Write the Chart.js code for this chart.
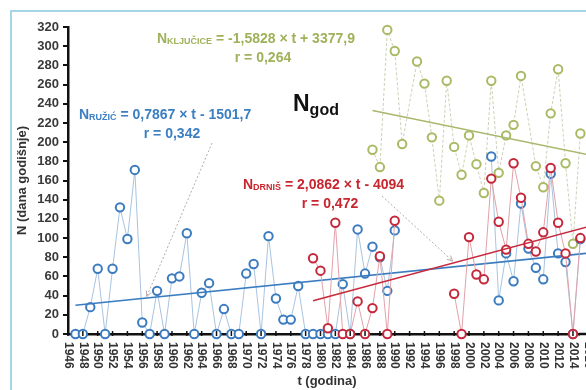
<!DOCTYPE html>
<html>
<head>
<meta charset="utf-8">
<script src="https://cdn.jsdelivr.net/npm/chart.js@4.4.0/dist/chart.umd.min.js"></script>
<style>
html, body { margin: 0; padding: 0; background: #fff; overflow: hidden; }
#wrap { width: 586px; height: 390px; position: relative; }
</style>
</head>
<body>
<div id="wrap"><canvas id="grafica"></canvas></div>
<script>
// godine (x) i broj dana po stanici, null = nema podatka
const years = [1947, 1948, 1949, 1950, 1951, 1952, 1953, 1954, 1955, 1956,
  1957, 1958, 1959, 1960, 1961, 1962, 1963, 1964, 1965, 1966,
  1967, 1968, 1969, 1970, 1971, 1972, 1973, 1974, 1975, 1976,
  1977, 1978, 1979, 1980, 1981, 1982, 1983, 1984, 1985, 1986,
  1987, 1988, 1989, 1990, 1991, 1992, 1993, 1994, 1995, 1996,
  1997, 1998, 1999, 2000, 2001, 2002, 2003, 2004, 2005, 2006,
  2007, 2008, 2009, 2010, 2011, 2012, 2013, 2014, 2015, 2016];

const ruzic = [0, 0, 28, 68, 0, 68, 132, 99, 171, 12,
  0, 45, 0, 58, 60, 105, 0, 43, 53, 0,
  26, 0, 0, 63, 73, 0, 102, 37, 15, 15,
  50, 0, 0, 0, 0, 0, 52, 0, 109, 63,
  91, 80, 45, 108, null, null, null, null, null, null,
  null, null, null, null, null, null, 185, 35, 84, 55,
  136, 89, 69, 57, 167, 84, 75, 0, 99, null];

const drnis = [null, null, null, null, null, null, null, null, null, null,
  null, null, null, null, null, null, null, null, null, null,
  null, null, null, null, null, null, null, null, null, null,
  null, null, 79, 66, 6, 116, 0, 0, 34, 0,
  27, 81, 0, 118, null, null, null, null, null, null,
  null, 42, 0, 101, 62, 57, 162, 117, 88, 178,
  142, 94, 86, 106, 173, 116, 84, 0, 100, 90];

const kljucice = [null, null, null, null, null, null, null, null, null, null,
  null, null, null, null, null, null, null, null, null, null,
  null, null, null, null, null, null, null, null, null, null,
  null, null, null, null, null, null, null, null, null, null,
  192, 174, 317, 295, 198, null, 284, 261, 205, 139,
  264, 195, 166, 207, 177, 147, 264, 168, 207, 218,
  269, null, 175, 153, 230, 276, 178, 94, 209, 218];

// pravci trenda (početak i kraj)
const trendRuzicYears = [1947, 2016];
const trendRuzic = [30.0, 84.2];
const trendDrnisYears = [1979, 2016];
const trendDrnis = [34.6, 111.8];
const trendKljuciceYears = [1987, 2016];
const trendKljucice = [232.9, 187.0];

const tickYears = [1946, 1948, 1950, 1952, 1954, 1956, 1958, 1960, 1962, 1964,
  1966, 1968, 1970, 1972, 1974, 1976, 1978, 1980, 1982, 1984,
  1986, 1988, 1990, 1992, 1994, 1996, 1998, 2000, 2002, 2004,
  2006, 2008, 2010, 2012, 2014, 2016];

const FONT = '"Liberation Sans", Arial, sans-serif';

const toPoints = (xs, ys) => xs.map((x, i) => ({ x: x, y: ys[i] }));

const series = (label, values, color, lineColor, dash, order) => ({
  label: label,
  data: toPoints(years, values),
  borderColor: lineColor,
  borderWidth: 1,
  borderDash: dash,
  pointBorderColor: color,
  pointBackgroundColor: '#fff',
  pointBorderWidth: 2,
  pointRadius: 4.2,
  spanGaps: dash.length > 0,
  clip: false,
  order: order
});

const trend = (label, xs, ys, color, order) => ({
  label: label,
  data: toPoints(xs, ys),
  borderColor: color,
  borderWidth: 1.6,
  pointRadius: 0,
  clip: false,
  order: order
});

// crta tekst sastavljen od dijelova (s indeksima)
const drawParts = (ctx, x, y, parts, color, align) => {
  ctx.fillStyle = color;
  ctx.textBaseline = 'alphabetic';
  ctx.textAlign = 'left';
  let total = 0;
  parts.forEach(p => {
    ctx.font = 'bold ' + p.size + 'px ' + FONT;
    total += ctx.measureText(p.t).width;
  });
  let cx = align === 'center' ? x - total / 2 : x;
  parts.forEach(p => {
    ctx.font = 'bold ' + p.size + 'px ' + FONT;
    ctx.fillText(p.t, cx, y + (p.dy || 0));
    cx += ctx.measureText(p.t).width;
  });
};

const arrow = (ctx, x1, y1, x2, y2) => {
  ctx.save();
  ctx.strokeStyle = '#b8aaab';
  ctx.lineWidth = 1;
  ctx.setLineDash([2, 2]);
  ctx.beginPath();
  ctx.moveTo(x1, y1);
  ctx.lineTo(x2, y2);
  ctx.stroke();
  ctx.setLineDash([]);
  const a = Math.atan2(y2 - y1, x2 - x1);
  ctx.beginPath();
  ctx.moveTo(x2 - 6 * Math.cos(a - 0.45), y2 - 6 * Math.sin(a - 0.45));
  ctx.lineTo(x2, y2);
  ctx.lineTo(x2 - 6 * Math.cos(a + 0.45), y2 - 6 * Math.sin(a + 0.45));
  ctx.stroke();
  ctx.restore();
};

const framePlugin = {
  id: 'frame',
  beforeDraw(chart) {
    const ctx = chart.ctx;
    ctx.save();
    ctx.fillStyle = '#fff';
    ctx.fillRect(0, 0, chart.width, chart.height);
    ctx.strokeStyle = '#a6d6e6';
    ctx.lineWidth = 2;
    ctx.beginPath();
    ctx.moveTo(11, chart.height + 2);
    ctx.lineTo(11, 11);
    ctx.lineTo(chart.width + 2, 11);
    ctx.stroke();
    // os x se nastavlja do ruba slike
    const a = chart.chartArea;
    ctx.strokeStyle = '#111';
    ctx.lineWidth = 2.5;
    ctx.beginPath();
    ctx.moveTo(a.right - 1, a.bottom);
    ctx.lineTo(chart.width + 2, a.bottom);
    ctx.stroke();
    ctx.restore();
  }
};

const labelsPlugin = {
  id: 'labels',
  afterDraw(chart) {
    const ctx = chart.ctx;
    const xs = chart.scales.x;
    const ys = chart.scales.y;
    const bottom = chart.chartArea.bottom;
    ctx.save();

    // oznake x osi, okrenute za 90°
    ctx.font = 'bold 12px ' + FONT;
    ctx.fillStyle = '#333';
    tickYears.forEach(yr => {
      const px = xs.getPixelForValue(yr);
      ctx.strokeStyle = '#111';
      ctx.lineWidth = 1.5;
      ctx.beginPath();
      ctx.moveTo(px, bottom - 3);
      ctx.lineTo(px, bottom + 2);
      ctx.stroke();
      ctx.save();
      ctx.translate(px, bottom + 8);
      ctx.rotate(Math.PI / 2);
      ctx.textAlign = 'left';
      ctx.textBaseline = 'middle';
      ctx.fillText(String(yr), 0, 0);
      ctx.restore();
    });

    ctx.font = 'bold 13px ' + FONT;
    ctx.textAlign = 'center';
    ctx.textBaseline = 'middle';
    ctx.fillText('t (godina)', 327, 381);

    // jednadžbe trenda
    const green = '#9fb15a', blue = '#3b7fc2', red = '#c8262f';
    drawParts(ctx, 157, 43, [
      { t: 'N', size: 14 }, { t: 'KLJUČICE', size: 9, dy: 1 },
      { t: ' = -1,5828 × t + 3377,9', size: 14 }], green);
    drawParts(ctx, 263, 62, [{ t: 'r = 0,264', size: 14 }], green, 'center');

    drawParts(ctx, 79, 119, [
      { t: 'N', size: 14 }, { t: 'RUŽIĆ', size: 9, dy: 1 },
      { t: ' = 0,7867 × t - 1501,7', size: 14 }], blue);
    drawParts(ctx, 172, 138, [{ t: 'r = 0,342', size: 14 }], blue, 'center');

    drawParts(ctx, 243, 189, [
      { t: 'N', size: 14 }, { t: 'DRNIŠ', size: 9, dy: 1 },
      { t: ' = 2,0862 × t - 4094', size: 14 }], red);
    drawParts(ctx, 330, 208, [{ t: 'r = 0,472', size: 14 }], red, 'center');

    drawParts(ctx, 293, 111, [{ t: 'N', size: 23 }, { t: 'god', size: 16, dy: 4 }], '#111');

    arrow(ctx, 212, 143, xs.getPixelForValue(1956.6), ys.getPixelForValue(39));
    arrow(ctx, 382, 196, xs.getPixelForValue(1997.8), ys.getPixelForValue(76));

    ctx.restore();
  }
};

const config = {
  type: 'line',
  data: {
    datasets: [
      series('Kljičice', kljucice, '#a9ba64', '#cdd1b4', [3, 2], 6),
      trend('Kljičice trend', trendKljuciceYears, trendKljucice, '#a8b86c', 5),
      series('Ružić', ruzic, '#3b7bbf', '#a9c4e0', [], 4),
      trend('Ružić trend', trendRuzicYears, trendRuzic, '#3a7cc0', 3),
      series('Drniš', drnis, '#c4283a', '#e2a2aa', [], 2),
      trend('Drniš trend', trendDrnisYears, trendDrnis, '#c8293d', 1)
    ]
  },
  options: {
    responsive: true,
    maintainAspectRatio: false,
    animation: false,
    layout: { padding: { left: 12, top: 27, right: 0, bottom: 0 } },
    plugins: { legend: { display: false }, tooltip: { enabled: false } },
    scales: {
      x: {
        type: 'linear',
        min: 1946,
        max: 2014.92,
        ticks: { display: false },
        grid: { display: false },
        border: { display: true, color: '#111', width: 2.5 },
        afterFit: scale => { scale.height = 56; }
      },
      y: {
        min: 0,
        max: 320,
        ticks: {
          stepSize: 20,
          padding: 4,
          color: '#3a3a3a',
          font: { family: FONT, size: 13, weight: 'bold' }
        },
        grid: { drawOnChartArea: false, tickLength: 5, color: '#111', lineWidth: 2 },
        border: { display: true, color: '#111', width: 2.5 },
        title: {
          display: true,
          text: 'N (dana godišnje)',
          color: '#333',
          padding: { top: 3, bottom: 0 },
          font: { family: FONT, size: 13, weight: 'bold' }
        },
        afterFit: scale => { scale.width = 56; }
      }
    }
  },
  plugins: [framePlugin, labelsPlugin]
};

const graph = document.querySelector('#grafica');
const myChart = new Chart(graph, config);
</script>
</body>
</html>
